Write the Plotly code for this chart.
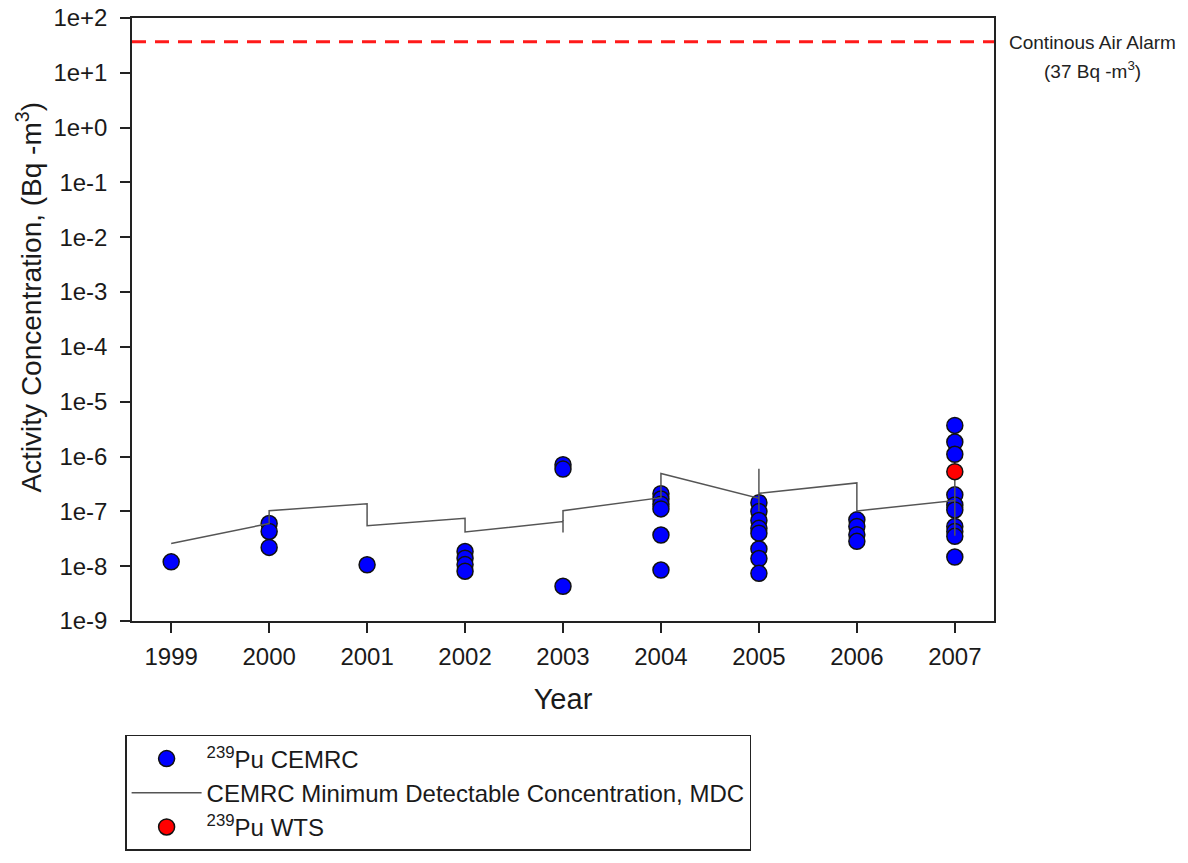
import plotly.graph_objects as go

# 239Pu activity concentrations measured by CEMRC (Bq/m^3)
cemrc_years = (
    [1999]
    + [2000] * 3
    + [2001]
    + [2002] * 4
    + [2003] * 3
    + [2004] * 6
    + [2005] * 8
    + [2006] * 4
    + [2007] * 10
)
cemrc_values = [
    1.2e-8,
    6.0e-8, 4.3e-8, 2.2e-8,
    1.06e-8,
    1.85e-8, 1.4e-8, 1.07e-8, 8.1e-9,
    7.1e-7, 5.9e-7, 4.3e-9,
    2.1e-7, 1.68e-7, 1.35e-7, 1.11e-7, 3.7e-8, 8.5e-9,
    1.44e-7, 9.9e-8, 6.8e-8, 4.9e-8, 4.0e-8, 2.06e-8, 1.38e-8, 7.4e-9,
    7.0e-8, 5.3e-8, 3.75e-8, 2.84e-8,
    3.7e-6, 1.84e-6, 1.10e-6, 2.0e-7, 1.31e-7, 1.06e-7, 5.3e-8, 4.3e-8, 3.5e-8, 1.47e-8,
]

# CEMRC minimum detectable concentration (connected in sampling order)
mdc_years = [1999, 2000, 2000, 2001, 2001, 2002, 2002, 2003, 2003, 2003,
             2004, 2004, 2005, 2005, 2005, 2005, 2006, 2006, 2007, 2007, 2007]
mdc_values = [2.6e-8, 6.0e-8, 1.03e-7, 1.38e-7, 5.45e-8, 7.5e-8, 4.2e-8,
              6.5e-8, 4.1e-8, 1.03e-7, 1.78e-7, 4.9e-7, 1.73e-7, 1.0e-7,
              6.0e-7, 2.13e-7, 3.3e-7, 1.02e-7, 1.57e-7, 3.6e-8, 5.0e-7]

# 239Pu measured by WTS
wts_years = [2007]
wts_values = [5.3e-7]

# Continuous air alarm threshold (Bq/m^3)
alarm_level = 37
x_range = [1998.6, 2007.4]

tick_years = [1999, 2000, 2001, 2002, 2003, 2004, 2005, 2006, 2007]
y_tick_vals = [1e-9, 1e-8, 1e-7, 1e-6, 1e-5, 1e-4, 1e-3, 1e-2, 1e-1, 1e0, 1e1, 1e2]
y_tick_text = ["1e-9", "1e-8", "1e-7", "1e-6", "1e-5", "1e-4", "1e-3",
               "1e-2", "1e-1", "1e+0", "1e+1", "1e+2"]

FONT = "Liberation Sans, Arial, sans-serif"
TEXT = "#1a1a1a"

fig = go.Figure()

fig.add_trace(go.Scatter(
    x=x_range, y=[alarm_level, alarm_level], mode="lines",
    line=dict(color="#ff1a1a", width=3, dash="14px,9px"),
    showlegend=False, hoverinfo="skip",
))

fig.add_trace(go.Scatter(
    x=cemrc_years, y=cemrc_values, mode="markers",
    name="<sup>239</sup>Pu CEMRC",
    marker=dict(size=16, color="#0000ff", line=dict(color="#111111", width=1.5)),
))

fig.add_trace(go.Scatter(
    x=mdc_years, y=mdc_values, mode="lines",
    name="CEMRC Minimum Detectable Concentration, MDC",
    line=dict(color="#555555", width=1.5),
))

fig.add_trace(go.Scatter(
    x=wts_years, y=wts_values, mode="markers",
    name="<sup>239</sup>Pu WTS",
    marker=dict(size=16, color="#ff0000", line=dict(color="#111111", width=1.5)),
))

# alarm label, right of the plot frame
fig.add_annotation(
    xref="paper", yref="paper", x=1.1137, y=0.960,
    xanchor="center", yanchor="middle", showarrow=False,
    text="Continous Air Alarm",
    font=dict(family=FONT, size=19, color="#222222"),
)
fig.add_annotation(
    xref="paper", yref="paper", x=1.1137, y=0.913,
    xanchor="center", yanchor="middle", showarrow=False,
    text="(37 Bq -m<sup>3</sup>)",
    font=dict(family=FONT, size=19, color="#222222"),
)

# y-axis title
fig.add_annotation(
    xref="paper", yref="paper", x=-0.1195, y=0.538,
    xanchor="center", yanchor="middle", showarrow=False, textangle=-90,
    text="Activity Concentration, (Bq -m<sup>3</sup>)",
    font=dict(family=FONT, size=28, color=TEXT),
)

fig.update_layout(
    width=1188, height=863,
    margin=dict(l=132, r=194, t=18, b=234),
    paper_bgcolor="white", plot_bgcolor="white",
    font=dict(family=FONT, color=TEXT),
    xaxis=dict(
        range=x_range, tickvals=tick_years,
        ticks="outside", ticklen=10, tickwidth=1.5, tickcolor="#222",
        showline=True, linecolor="#222", linewidth=1.5, mirror=True,
        showgrid=False, zeroline=False, automargin=False,
        tickfont=dict(size=24), ticklabelstandoff=3,
        title=dict(text="Year", font=dict(size=29), standoff=20),
    ),
    yaxis=dict(
        type="log", range=[-9, 2],
        tickvals=y_tick_vals, ticktext=y_tick_text,
        ticks="outside", ticklen=10, tickwidth=1.5, tickcolor="#222",
        showline=True, linecolor="#222", linewidth=1.5, mirror=True,
        showgrid=False, zeroline=False, automargin=False,
        tickfont=dict(size=24), ticklabelstandoff=8,
    ),
    legend=dict(
        x=-0.008, y=-0.189, xanchor="left", yanchor="top",
        bordercolor="#222", borderwidth=1.5, bgcolor="white",
        font=dict(size=24, color=TEXT),
        itemwidth=70, tracegroupgap=0,
    ),
)

fig.write_html("out.html")
